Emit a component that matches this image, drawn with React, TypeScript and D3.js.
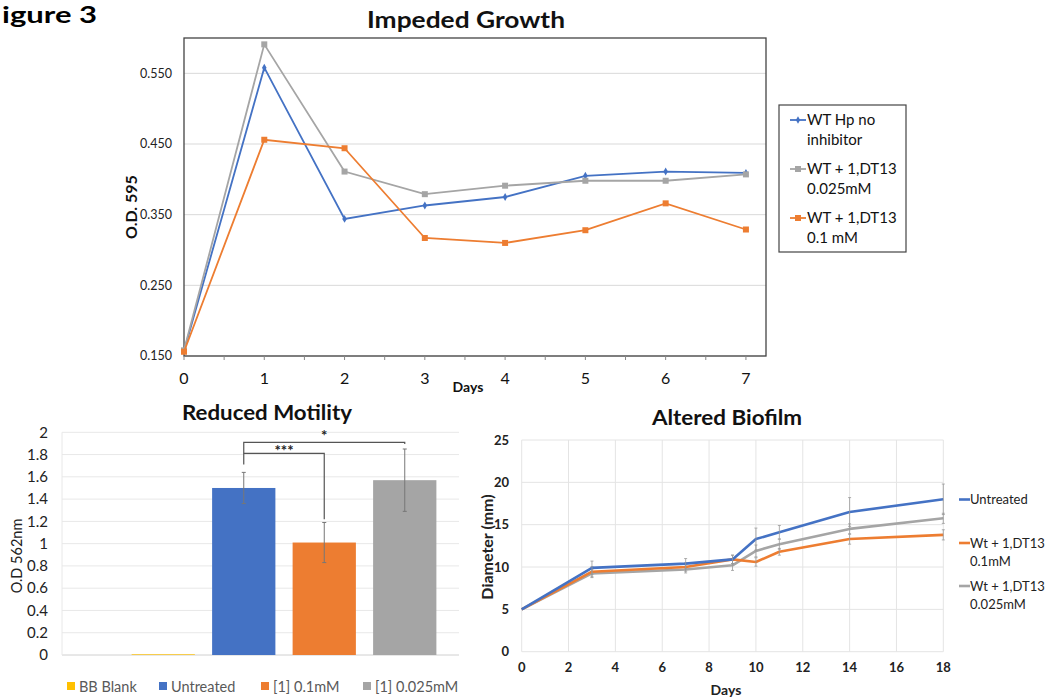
import React from 'react';
import * as d3 from 'd3';

// ---- Impeded Growth (top) ----
const growthDays = [0, 1, 2, 3, 4, 5, 6, 7];
const growthNoInhibitor = [0.157, 0.558, 0.344, 0.363, 0.375, 0.405, 0.411, 0.409];
const growth0025 = [0.158, 0.591, 0.411, 0.379, 0.391, 0.398, 0.398, 0.407];
const growth01 = [0.156, 0.456, 0.444, 0.317, 0.310, 0.328, 0.366, 0.329];
const growthYTicks = [0.15, 0.25, 0.35, 0.45, 0.55];
const growthLegend = [
  ['WT Hp no', 'inhibitor'],
  ['WT + 1,DT13', '0.025mM'],
  ['WT + 1,DT13', '0.1 mM'],
];

// ---- Reduced Motility (bottom left) ----
const motilityGroups = ['BB Blank', 'Untreated', '[1] 0.1mM', '[1] 0.025mM'];
const motilityValues = [0.006, 1.5, 1.01, 1.57];
const motilityErrors = [0, 0.14, 0.18, 0.28];
const motilityYTicks = [0, 0.2, 0.4, 0.6, 0.8, 1, 1.2, 1.4, 1.6, 1.8, 2];

// ---- Altered Biofilm (bottom right) ----
const biofilmDays = [0, 3, 7, 9, 10, 11, 14, 18];
const biofilmUntreated = [5, 9.9, 10.4, 10.9, 13.3, 14.1, 16.5, 18.0];
const biofilmUntreatedErr = [0, 0.8, 0.6, 0.5, 1.3, 0.8, 1.7, 1.8];
const biofilm01 = [5, 9.45, 10.0, 10.9, 10.6, 11.8, 13.3, 13.8];
const biofilm01Err = [0, 0.6, 0.5, 0.5, 0.5, 0.4, 0.6, 0.6];
const biofilm0025 = [5, 9.25, 9.7, 10.2, 11.9, 12.7, 14.5, 15.75];
const biofilm0025Err = [0, 0.5, 0.4, 0.6, 0.7, 0.6, 0.6, 0.6];
const biofilmXTicks = [0, 2, 4, 6, 8, 10, 12, 14, 16, 18];
const biofilmYTicks = [0, 5, 10, 15, 20, 25];

const BLUE = '#4472C4';
const ORANGE = '#ED7D31';
const GRAY = '#A5A5A5';
const YELLOW = '#FFC000';
const FONT = 'Lato, "Open Sans", sans-serif';

function GrowthChart() {
  const x = d3.scaleLinear().domain([0, 7.25]).range([184, 766]);
  const y = d3.scaleLinear().domain([0.15, 0.6]).range([356, 38]);
  const line = d3.line<number>().x((_, i) => x(growthDays[i])).y(d => y(d));
  const series = [
    { vals: growthNoInhibitor, color: BLUE, marker: 'diamond' },
    { vals: growth0025, color: GRAY, marker: 'square' },
    { vals: growth01, color: ORANGE, marker: 'square' },
  ];
  const halfTicks = d3.range(0, 7.01, 0.5);
  return (
    <g fontFamily={FONT}>
      <text x={466} y={28} textAnchor="middle" fontSize={22} fontWeight="bold" fill="#111" textLength={198} lengthAdjust="spacingAndGlyphs">Impeded Growth</text>
      {growthYTicks.map(t => (
        <g key={t}>
          <line x1={x(0)} x2={x(7.25)} y1={y(t)} y2={y(t)} stroke="#d9d9d9" strokeWidth={1} />
          <text x={x(0) - 12} y={y(t)} dy="0.35em" textAnchor="end" fontSize={12.5} fill="#222">{t.toFixed(3)}</text>
        </g>
      ))}
      <rect x={x(0)} y={y(0.6)} width={x(7.25) - x(0)} height={y(0.15) - y(0.6)} fill="none" stroke="#444" strokeWidth={1.3} />
      {halfTicks.map(t => (
        <line key={t} x1={x(t)} x2={x(t)} y1={y(0.15)} y2={y(0.15) + 4} stroke="#888" />
      ))}
      {growthDays.map(d => (
        <text key={d} x={x(d)} y={378} dy="0.35em" textAnchor="middle" fontSize={16} fill="#111">{d}</text>
      ))}
      <text x={468} y={392} textAnchor="middle" fontSize={14} fontWeight="bold" fill="#111">Days</text>
      <text transform={`translate(137,207) rotate(-90)`} textAnchor="middle" fontSize={16} fontWeight="bold" fill="#111">O.D. 595</text>
      {series.map((s, si) => (
        <g key={si}>
          <path d={line(s.vals) || ''} fill="none" stroke={s.color} strokeWidth={1.8} />
          {s.vals.map((v, i) =>
            s.marker === 'square' ? (
              <rect key={i} x={x(growthDays[i]) - 3} y={y(v) - 3} width={6} height={6} fill={s.color} />
            ) : (
              <path key={i} d={d3.symbol(d3.symbolDiamond, 18)() || ''} transform={`translate(${x(growthDays[i])},${y(v)})`} fill={s.color} />
            )
          )}
        </g>
      ))}
      {/* legend */}
      <rect x={779} y={105} width={127} height={147} fill="#fff" stroke="#444" strokeWidth={1.2} />
      {growthLegend.map((lab, i) => {
        const ly = 120 + i * 49;
        const s = series[i];
        return (
          <g key={i}>
            <line x1={790} x2={806} y1={ly} y2={ly} stroke={s.color} strokeWidth={1.8} />
            {s.marker === 'square' ? (
              <rect x={795} y={ly - 3} width={6} height={6} fill={s.color} />
            ) : (
              <path d={d3.symbol(d3.symbolDiamond, 16)() || ''} transform={`translate(798,${ly})`} fill={s.color} />
            )}
            <text x={807} y={ly} dy="0.35em" fontSize={15} fill="#111">{lab[0]}</text>
            <text x={807} y={ly + 20} dy="0.35em" fontSize={15} fill="#111">{lab[1]}</text>
          </g>
        );
      })}
    </g>
  );
}

function MotilityChart() {
  const y = d3.scaleLinear().domain([0, 2]).range([655, 432.3]);
  const xb = d3.scaleBand<string>().domain(motilityGroups).range([123, 445]).paddingInner(0.214).paddingOuter(0.107);
  const colors = [YELLOW, BLUE, ORANGE, GRAY];
  const cx = (g: string) => (xb(g) || 0) + xb.bandwidth() / 2;
  const bx1 = cx('Untreated');
  const bx2 = cx('[1] 0.1mM');
  const bx3 = cx('[1] 0.025mM');
  return (
    <g fontFamily={FONT}>
      <text x={267} y={420} textAnchor="middle" fontSize={21} fontWeight="bold" fill="#111" textLength={170} lengthAdjust="spacingAndGlyphs">Reduced Motility</text>
      {motilityYTicks.map(t => (
        <g key={t}>
          <line x1={62} x2={459} y1={y(t)} y2={y(t)} stroke={t === 0 ? '#d0d0d0' : '#e8e8e8'} strokeWidth={1} />
          <text x={48} y={y(t)} dy="0.35em" textAnchor="end" fontSize={15} fill="#222">{t}</text>
        </g>
      ))}
      <line x1={62} x2={62} y1={y(2)} y2={y(0)} stroke="#e8e8e8" />
      <text transform={`translate(22,556) rotate(-90)`} textAnchor="middle" fontSize={14.5} fill="#222">O.D 562nm</text>
      {motilityGroups.map((g, i) => (
        <rect key={g} x={xb(g)} y={y(motilityValues[i])} width={xb.bandwidth()} height={y(0) - y(motilityValues[i])} fill={colors[i]} />
      ))}
      {motilityGroups.map((g, i) =>
        motilityErrors[i] > 0 ? (
          <g key={g} stroke="#777" strokeWidth={1}>
            <line x1={cx(g)} x2={cx(g)} y1={y(motilityValues[i] + motilityErrors[i])} y2={y(motilityValues[i] - motilityErrors[i])} />
            <line x1={cx(g) - 2} x2={cx(g) + 2} y1={y(motilityValues[i] + motilityErrors[i])} y2={y(motilityValues[i] + motilityErrors[i])} />
            <line x1={cx(g) - 2} x2={cx(g) + 2} y1={y(motilityValues[i] - motilityErrors[i])} y2={y(motilityValues[i] - motilityErrors[i])} />
          </g>
        ) : null
      )}
      {/* significance brackets */}
      <path d={`M${bx1},${y(1.71)} V${y(1.91)} H${bx3} V${y(1.895)}`} fill="none" stroke="#555" strokeWidth={1.2} />
      <path d={`M${bx1},${y(1.81)} H${bx2} V${y(1.22)}`} fill="none" stroke="#555" strokeWidth={1.2} />
      <text x={(bx1 + bx3) / 2} y={y(1.91) - 1} textAnchor="middle" fontSize={15} fontWeight="bold" fill="#222">*</text>
      <text x={(bx1 + bx2) / 2} y={y(1.81) + 3} textAnchor="middle" fontSize={15} fontWeight="bold" fill="#222">***</text>
      {/* legend */}
      {motilityGroups.map((g, i) => {
        const lx = [67, 159, 261, 363][i];
        return (
          <g key={g}>
            <rect x={lx} y={682} width={8} height={8} fill={colors[i]} />
            <text x={lx + 12} y={687} dy="0.35em" fontSize={14.5} fill="#595959">{g}</text>
          </g>
        );
      })}
    </g>
  );
}

function BiofilmChart() {
  const x = d3.scaleLinear().domain([0, 18]).range([521.7, 943.3]);
  const y = d3.scaleLinear().domain([0, 25]).range([651.7, 440]);
  const line = d3.line<number>().x((_, i) => x(biofilmDays[i])).y(d => y(d));
  const series = [
    { vals: biofilmUntreated, err: biofilmUntreatedErr, color: BLUE, label: ['Untreated'] },
    { vals: biofilm01, err: biofilm01Err, color: ORANGE, label: ['Wt + 1,DT13', '0.1mM'] },
    { vals: biofilm0025, err: biofilm0025Err, color: GRAY, label: ['Wt + 1,DT13', '0.025mM'] },
  ];
  const legendY = [499.5, 543, 586];
  const drawOrder = [2, 1, 0];
  return (
    <g fontFamily={FONT}>
      <text x={727} y={425} textAnchor="middle" fontSize={21} fontWeight="bold" fill="#111" textLength={150} lengthAdjust="spacingAndGlyphs">Altered Biofilm</text>
      {biofilmYTicks.map(t => (
        <g key={t}>
          <line x1={x(0)} x2={x(18)} y1={y(t)} y2={y(t)} stroke="#e4e4e4" />
          <text x={509} y={y(t)} dy="0.35em" textAnchor="end" fontSize={13} fontWeight="bold" fill="#222">{t}</text>
        </g>
      ))}
      {biofilmXTicks.map(t => (
        <g key={t}>
          <line x1={x(t)} x2={x(t)} y1={y(0)} y2={y(25)} stroke="#e4e4e4" />
          <text x={x(t)} y={667} dy="0.35em" textAnchor="middle" fontSize={13} fontWeight="bold" fill="#222">{t}</text>
        </g>
      ))}
      <text x={726} y={695} textAnchor="middle" fontSize={14} fontWeight="bold" fill="#222">Days</text>
      <text transform={`translate(493,547) rotate(-90)`} textAnchor="middle" fontSize={16} fontWeight="bold" fill="#222">Diameter (mm)</text>
      {drawOrder.map(si => {
        const s = series[si];
        return (
          <g key={si}>
            <path d={line(s.vals) || ''} fill="none" stroke={s.color} strokeWidth={2.6} strokeLinejoin="round" />
            {s.vals.map((v, i) =>
              s.err[i] > 0 ? (
                <g key={i} stroke="#999" strokeWidth={0.8}>
                  <line x1={x(biofilmDays[i])} x2={x(biofilmDays[i])} y1={y(v + s.err[i])} y2={y(v - s.err[i])} />
                  <line x1={x(biofilmDays[i]) - 1.5} x2={x(biofilmDays[i]) + 1.5} y1={y(v + s.err[i])} y2={y(v + s.err[i])} />
                  <line x1={x(biofilmDays[i]) - 1.5} x2={x(biofilmDays[i]) + 1.5} y1={y(v - s.err[i])} y2={y(v - s.err[i])} />
                </g>
              ) : null
            )}
          </g>
        );
      })}
      {series.map((s, i) => (
        <g key={i}>
          <line x1={959} x2={970} y1={legendY[i]} y2={legendY[i]} stroke={s.color} strokeWidth={2.6} />
          {s.label.map((l, j) => (
            <text key={j} x={970} y={legendY[i] + j * 18} dy="0.35em" fontSize={13} fill="#222">{l}</text>
          ))}
        </g>
      ))}
    </g>
  );
}

export default function App() {
  return (
    <svg width={1049} height={698} style={{ position: 'absolute', left: 0, top: 0, background: '#fff' }}>
      <rect width={1049} height={698} fill="#fff" />
      <text x={2} y={23} fontFamily={FONT} fontSize={23} fontWeight="bold" fill="#000" textLength={95} lengthAdjust="spacingAndGlyphs">igure 3</text>
      <GrowthChart />
      <MotilityChart />
      <BiofilmChart />
    </svg>
  );
}
